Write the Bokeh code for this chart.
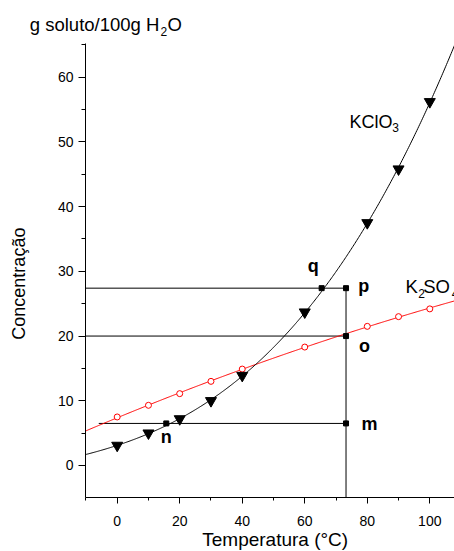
import numpy as np
from bokeh.plotting import figure
from bokeh.models import Range1d, FixedTicker, ColumnDataSource
from bokeh.core.properties import value
from bokeh.embed import file_html
from bokeh.resources import INLINE

# ---- data ----
kclo3_temp = [0, 10, 20, 30, 40, 60, 80, 90, 100]
kclo3_sol = [3.1, 5.0, 7.2, 10.0, 13.9, 23.7, 37.5, 45.8, 56.2]
k2so4_temp = [0, 10, 20, 30, 40, 60, 80, 90, 100]
k2so4_sol = [7.5, 9.3, 11.1, 13.0, 14.9, 18.3, 21.5, 23.0, 24.2]

point_names = ["q", "p", "o", "m", "n"]
point_x = [65.4, 73.2, 73.2, 73.2, 15.7]
point_y = [27.4, 27.4, 20.0, 6.5, 6.5]

guide_x0 = [-10.14, -10.14, -5.9, 73.2]
guide_y0 = [27.4, 20.0, 6.5, 27.4]
guide_x1 = [73.2, 73.2, 73.2, 73.2]
guide_y1 = [27.4, 20.0, 6.5, -4.9]

x_major = [0, 20, 40, 60, 80, 100]
x_minor = [-10, 10, 30, 50, 70, 90]
y_major = [0, 10, 20, 30, 40, 50, 60]
y_minor = [5, 15, 25, 35, 45, 55, 65]

X_LO, X_HI = -10.14, 108.0   # axis extent (data)
Y_LO, Y_HI = -4.9, 65.2

FONT = "Liberation Sans"
SHIFT = 1.0   # baseline correction (data units)

# the frame covers the whole canvas; axes are pinned inside it
p = figure(width=454, height=551, title=None,
           x_range=Range1d(-37.33, 107.9), y_range=Range1d(-13.29, 71.85),
           output_backend="svg", toolbar_location=None,
           min_border_left=0, min_border_right=0,
           min_border_top=0, min_border_bottom=0)
p.outline_line_color = None
p.xgrid.visible = False
p.ygrid.visible = False
p.background_fill_color = "white"
p.border_fill_color = "white"

for ax in (p.xaxis[0], p.yaxis[0]):
    ax.axis_line_color = "black"
    ax.axis_line_width = 1
    ax.major_tick_line_color = "black"
    ax.minor_tick_line_color = "black"
    ax.major_tick_in = 0
    ax.minor_tick_in = 0
    ax.major_label_text_font = FONT
    ax.major_label_text_font_size = "14px"
    ax.major_label_text_color = "black"

p.xaxis.fixed_location = Y_LO
p.yaxis.fixed_location = X_LO
p.xaxis.bounds = (X_LO, X_HI)
p.yaxis.bounds = (Y_LO, Y_HI)
p.xaxis.ticker = FixedTicker(ticks=x_major, minor_ticks=x_minor)
p.yaxis.ticker = FixedTicker(ticks=y_major, minor_ticks=y_minor)
p.xaxis.major_tick_out = 6
p.xaxis.minor_tick_out = 3
p.yaxis.major_tick_out = 7
p.yaxis.minor_tick_out = 4
p.xaxis.major_label_standoff = 13
p.yaxis.major_label_standoff = 5

# guide lines
p.segment(x0=guide_x0, y0=guide_y0, x1=guide_x1, y1=guide_y1,
          line_color="black", line_width=1)

# fitted curves (rendered from the data points)
xs = np.linspace(X_LO, X_HI, 400)
c_k = np.polyfit(kclo3_temp, kclo3_sol, 3)
c_s = np.polyfit(k2so4_temp, k2so4_sol, 2)
yk = np.polyval(c_k, xs)
keep = yk <= Y_HI
p.line(xs, np.polyval(c_s, xs), line_color="red", line_width=1)
p.line(xs[keep], yk[keep], line_color="black", line_width=1)

p.scatter(k2so4_temp, k2so4_sol, marker="circle", size=6,
          fill_color="white", line_color="red", line_width=1)
p.scatter(kclo3_temp, kclo3_sol, marker="inverted_triangle", size=11,
          fill_color="black", line_color="black")
p.scatter(point_x, point_y, marker="square", size=5,
          fill_color="black", line_color="black")

# point labels
lx = [62.7, 78.9, 79.1, 80.7, 15.7]
ly = [29.9, 26.7, 17.4, 5.4, 3.35]
lbl_src = ColumnDataSource(dict(x=lx, y=[v + SHIFT for v in ly], t=point_names))
p.text(x="x", y="y", text="t", source=lbl_src, text_font=value(FONT),
       text_font_style="bold", text_font_size="18px", text_color="black",
       text_align="center", text_baseline="alphabetic")

def txt(x, y, s, size, align="left", baseline="alphabetic", angle=0.0):
    if baseline == "alphabetic":
        y = y + SHIFT
    p.text(x=[x], y=[y], text=[s], text_font=value(FONT), text_font_size=size,
           text_color="black", text_align=align, text_baseline=baseline,
           angle=angle)

# series labels
txt(74.3, 52.0, "KClO", "18px")
txt(88.0, 51.2, "3", "12px")
txt(92.2, 26.7, "K", "18.5px")
txt(96.3, 25.55, "2", "12px")
txt(97.9, 26.7, "SO", "18.5px")
txt(107.0, 25.55, "4", "12px")

# title and axis titles
txt(-27.96, 67.2, "g soluto/100g H", "18.5px")
txt(13.85, 66.1, "2", "12px")
txt(16.1, 67.2, "O", "18.5px")
txt(-31.57, 28.1, "Concentração", "18px", align="center", baseline="middle",
    angle=np.pi / 2)
txt(50.54, -12.45, "Temperatura (°C)", "19px", align="center")

open("out.html", "w").write(file_html(p, INLINE))
